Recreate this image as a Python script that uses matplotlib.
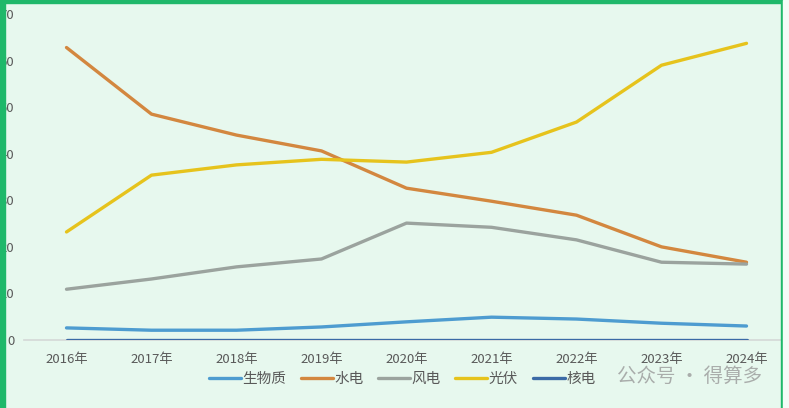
import matplotlib.pyplot as plt
from matplotlib.patches import Rectangle

plt.rcParams['font.family'] = ['Noto Sans CJK SC', 'DejaVu Sans']

years = ['2016年', '2017年', '2018年', '2019年', '2020年', '2021年', '2022年', '2023年', '2024年']
biomass = [2.6, 2.1, 2.1, 2.8, 3.9, 4.9, 4.5, 3.6, 3.0]
hydro = [62.8, 48.5, 44.0, 40.6, 32.6, 29.8, 26.8, 20.0, 16.7]
wind = [10.9, 13.1, 15.7, 17.4, 25.1, 24.2, 21.5, 16.7, 16.3]
solar = [23.2, 35.4, 37.6, 38.8, 38.2, 40.3, 46.8, 59.0, 63.7]
nuclear = [0, 0, 0, 0, 0, 0, 0, 0, 0]

series = [
    ('生物质', biomass, '#4e9cd0'),
    ('水电', hydro, '#d3873f'),
    ('风电', wind, '#9ba39e'),
    ('光伏', solar, '#e6c31c'),
    ('核电', nuclear, '#3b6aa6'),
]

bg = '#e7f8ee'
W, H = 789, 408
fig = plt.figure(figsize=(W / 100, H / 100), dpi=100, facecolor=bg)
ax = fig.add_axes([24 / W, (H - 340) / H, 765 / W, 326 / H])
ax.set_facecolor(bg)

x = range(len(years))
for name, vals, col in series:
    ax.plot(x, vals, color=col, lw=2.4, label=name, solid_capstyle='round')

ax.set_xlim(-0.5, len(years) - 0.5)
ax.set_ylim(0, 70)
ax.set_yticks(range(0, 71, 10))
ax.set_xticks(list(x))
ax.set_xticklabels(years)
ax.tick_params(axis='both', length=0, labelsize=9.5, colors='#595959')
ax.tick_params(axis='y', pad=7)
ax.tick_params(axis='x', pad=9)
for s in ['top', 'right', 'left']:
    ax.spines[s].set_visible(False)
ax.spines['bottom'].set_color('#d4d8d6')
ax.spines['bottom'].set_linewidth(1.2)
ax.spines['bottom'].set_zorder(0)

leg = fig.legend(loc='center', bbox_to_anchor=(402 / W, (H - 379) / H), ncol=5,
                 frameon=False, fontsize=10.5, handlelength=2.2, handletextpad=0.1,
                 columnspacing=1.0, labelcolor='#595959')

# watermark
fig.text(690 / W, (H - 376) / H, '公众号 · 得算多', fontsize=14, color='#9a9a9a',
         alpha=0.8, ha='center', va='center')

# green frame
g = '#1fb86a'
fig.add_artist(Rectangle((0, 1 - 3 / H), 1, 3 / H, transform=fig.transFigure, color=g))
fig.add_artist(Rectangle((0, 0), 5 / W, 1, transform=fig.transFigure, color=g))
fig.add_artist(Rectangle((781 / W, 0), 2 / W, 1, transform=fig.transFigure, color=g))
fig.add_artist(Rectangle((783 / W, 0), 6 / W, 1, transform=fig.transFigure, color='#f4fbf7'))

fig.savefig('out.png', dpi=100, facecolor=bg)
